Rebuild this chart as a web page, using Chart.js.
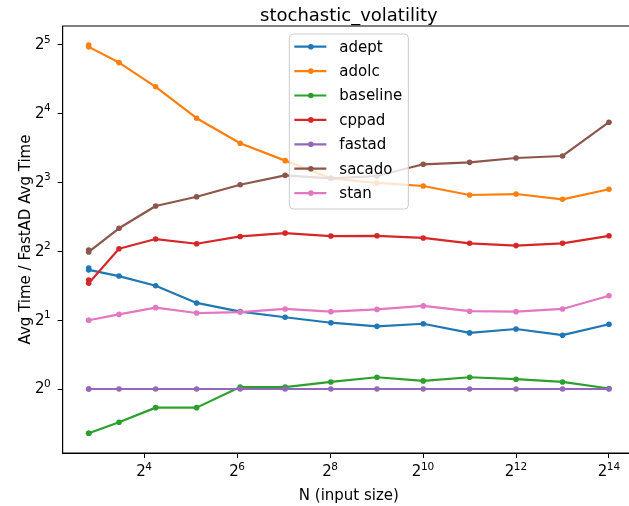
<!DOCTYPE html>
<html>
<head>
<meta charset="utf-8">
<script src="https://cdn.jsdelivr.net/npm/chart.js@4.4.1/dist/chart.umd.min.js"></script>
<style>
  html, body { margin: 0; padding: 0; background: #fff; overflow: hidden; }
  #wrap { position: relative; width: 645px; height: 506px; }
</style>
</head>
<body>
<div id="wrap"><canvas id="chart"></canvas></div>
<script>
// N (input size); the first size was measured twice
const sizes = [7, 7, 11, 19, 35, 67, 131, 259, 515, 1027, 2051, 4099, 8195, 16387];

const adept    = [3.38, 3.32, 3.12, 2.83, 2.38, 2.18, 2.06, 1.95, 1.88, 1.93, 1.76, 1.83, 1.72, 1.92];
const adolc    = [32.0, 31.4, 26.8, 21.0, 15.3, 11.9, 9.98, 8.35, 7.97, 7.73, 7.06, 7.13, 6.76, 7.48];
const baseline = [0.64, 0.64, 0.715, 0.829, 0.829, 1.02, 1.02, 1.074, 1.126, 1.085, 1.126, 1.104, 1.074, 1.005];
const cppad    = [3.0, 2.9, 4.11, 4.53, 4.32, 4.65, 4.81, 4.67, 4.68, 4.58, 4.34, 4.24, 4.34, 4.68];
const fastad   = [1, 1, 1, 1, 1, 1, 1, 1, 1, 1, 1, 1, 1, 1];
const sacado   = [4.06, 3.98, 5.05, 6.32, 6.94, 7.83, 8.61, 8.35, 8.55, 9.62, 9.81, 10.25, 10.46, 14.7];
const stan     = [2.0, 2.0, 2.12, 2.27, 2.15, 2.17, 2.24, 2.18, 2.23, 2.31, 2.19, 2.18, 2.24, 2.56];

const names  = ["adept", "adolc", "baseline", "cppad", "fastad", "sacado", "stan"];
const series = [adept, adolc, baseline, cppad, fastad, sacado, stan];
const colors = ["#1f77b4", "#ff7f0e", "#2ca02c", "#d62728", "#9467bd", "#8c564b", "#e377c2"];

const xTickPowers = [4, 6, 8, 10, 12, 14];
const yTickPowers = [0, 1, 2, 3, 4, 5];

const FONT = "'DejaVu Sans', sans-serif";

const datasets = names.map((name, i) => ({
  label: name,
  data: sizes.map((n, j) => ({ x: n, y: series[i][j] })),
  borderColor: colors[i],
  backgroundColor: colors[i],
  borderWidth: 2.2,
  borderJoinStyle: "round",
  pointRadius: 2.8,
  pointBorderWidth: 0,
  pointBackgroundColor: colors[i],
  tension: 0,
  order: names.length - 1 - i,
}));

// "2" with a raised exponent, like matplotlib's mathtext tick labels
function drawPow(ctx, value, x, y, align) {
  const base = "2";
  const exp = String(Math.round(Math.log2(value)));
  ctx.font = "15px " + FONT;
  const wb = ctx.measureText(base).width - 0.5;
  ctx.font = "10.5px " + FONT;
  const we = ctx.measureText(exp).width;
  const total = wb + we;
  let left = x;
  if (align === "center") left = x - total / 2;
  if (align === "right") left = x - total;
  ctx.textAlign = "left";
  ctx.textBaseline = "alphabetic";
  ctx.font = "15px " + FONT;
  ctx.fillText(base, left, y);
  ctx.font = "10.5px " + FONT;
  ctx.fillText(exp, left + wb, y - 6.6);
}

// title, frame, tick labels and legend (upper center, inside the axes)
const decor = {
  id: "decor",
  afterDatasetsDraw(chart) {
    const { ctx, chartArea: a } = chart;
    const cx = (a.left + a.right) / 2;
    ctx.save();
    ctx.strokeStyle = "#000";
    ctx.lineWidth = 1;
    ctx.strokeRect(a.left, a.top, a.right - a.left, a.bottom - a.top);

    ctx.fillStyle = "#000";
    ctx.font = "18px " + FONT;
    ctx.textAlign = "center";
    ctx.textBaseline = "alphabetic";
    ctx.fillText("stochastic_volatility", cx, 21);

    const xs = chart.scales.x, ys = chart.scales.y;
    xs.ticks.forEach(t => drawPow(ctx, t.value, xs.getPixelForValue(t.value), a.bottom + 23.3, "center"));
    ys.ticks.forEach(t => drawPow(ctx, t.value, a.left - 12, ys.getPixelForValue(t.value) + 4.3, "right"));

    const w = 119, h = 175;
    const lx = cx - w / 2, ly = a.top + 8;
    ctx.beginPath();
    ctx.roundRect(lx, ly, w, h, 4);
    ctx.fillStyle = "rgba(255,255,255,0.8)";
    ctx.fill();
    ctx.strokeStyle = "#cccccc";
    ctx.lineWidth = 1;
    ctx.stroke();

    ctx.font = "15px " + FONT;
    ctx.textAlign = "left";
    ctx.textBaseline = "middle";
    chart.data.datasets.forEach((ds, i) => {
      const y = ly + 12.7 + i * 24.4;
      ctx.strokeStyle = ds.borderColor;
      ctx.lineWidth = 2.2;
      ctx.beginPath();
      ctx.moveTo(lx + 5, y);
      ctx.lineTo(lx + 37, y);
      ctx.stroke();
      ctx.fillStyle = ds.borderColor;
      ctx.beginPath();
      ctx.arc(lx + 21.5, y, 2.8, 0, Math.PI * 2);
      ctx.fill();
      ctx.fillStyle = "#000";
      ctx.fillText(ds.label, lx + 50, y + 1);
    });
    ctx.restore();
  },
};

new Chart(document.getElementById("chart"), {
  type: "line",
  data: { datasets },
  plugins: [decor],
  options: {
    responsive: true,
    maintainAspectRatio: false,
    animation: false,
    layout: { padding: { top: 26, right: 10, left: 0, bottom: 0 } },
    plugins: {
      legend: { display: false },
      title: { display: false },
      tooltip: { enabled: false },
    },
    scales: {
      x: {
        type: "logarithmic",
        min: Math.pow(2, 2.248),
        max: Math.pow(2, 14.56),
        afterFit(scale) { scale.height = 53; },
        afterBuildTicks(scale) { scale.ticks = xTickPowers.map(p => ({ value: Math.pow(2, p) })); },
        grid: { display: true, drawOnChartArea: false, drawTicks: true, tickLength: 5, tickColor: "#000" },
        border: { display: true, color: "#000", width: 1 },
        ticks: { display: false, autoSkip: false, maxRotation: 0 },
        title: {
          display: true,
          text: "N (input size)",
          color: "#000",
          font: { family: FONT, size: 15 },
          padding: { top: 0, bottom: 1 },
        },
      },
      y: {
        type: "logarithmic",
        min: Math.pow(2, -0.93),
        max: Math.pow(2, 5.276),
        afterFit(scale) { scale.width = 62.7; },
        afterBuildTicks(scale) { scale.ticks = yTickPowers.map(p => ({ value: Math.pow(2, p) })); },
        grid: { display: true, drawOnChartArea: false, drawTicks: true, tickLength: 5, tickColor: "#000" },
        border: { display: true, color: "#000", width: 1 },
        ticks: { display: false, autoSkip: false },
        title: {
          display: true,
          text: "Avg Time / FastAD Avg Time",
          color: "#000",
          font: { family: FONT, size: 15 },
          padding: { top: 17, bottom: 0 },
        },
      },
    },
  },
});
</script>
</body>
</html>
